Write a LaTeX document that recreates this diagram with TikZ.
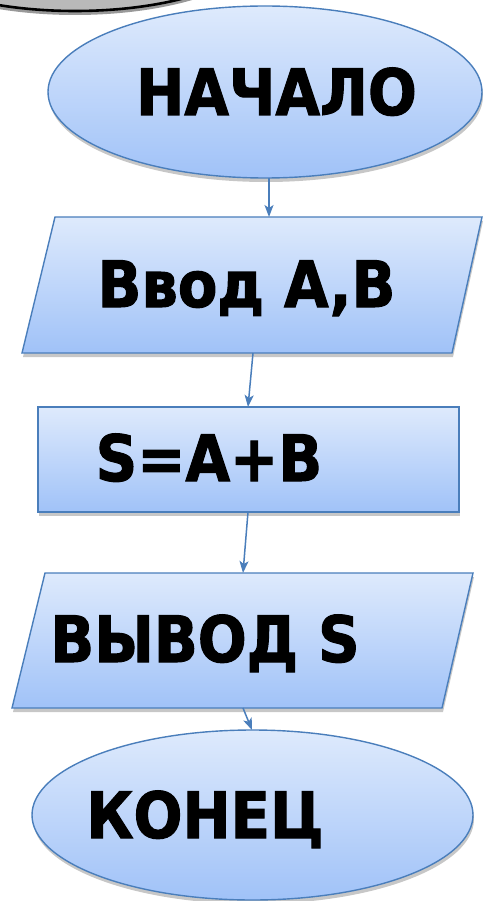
\documentclass[tikz,border=0pt]{standalone}
\usepackage{fontspec}
\setmainfont{DejaVu Sans}[FakeStretch=0.9]
\newfontfamily\heavy{DejaVu Sans Bold}[FakeStretch=0.9,FakeBold=1.6]
\usetikzlibrary{arrows.meta,shadows,shapes.geometric}
\definecolor{edge}{RGB}{74,126,187}
\definecolor{topc}{RGB}{222,234,252}
\definecolor{botc}{RGB}{160,194,248}
\definecolor{darkfill}{RGB}{185,185,185}
\tikzset{
 blk/.style={draw=edge, line width=1.4pt, top color=topc, bottom color=botc,
   drop shadow={shadow xshift=1pt, shadow yshift=-4pt, opacity=0.22, fill=black}},
 lbl/.style={font=\fontsize{64}{64}\selectfont\heavy, text=black, inner sep=0pt, anchor=base},
 conn/.style={draw=edge, line width=1.5pt, -{Stealth[length=12pt,width=9pt,inset=3pt]}}
}
\begin{document}
\begin{tikzpicture}[x=1pt,y=-1pt]
\useasboundingbox (0,0) rectangle (483,901);
% partial dark shape at the top left
\draw[line width=2.6pt, fill=darkfill,
  drop shadow={shadow xshift=0pt, shadow yshift=-4pt, opacity=0.4, fill=black}]
  (75,-62) ellipse [x radius=193, y radius=73];
% shapes
\node[blk, ellipse, minimum width=434pt, minimum height=172pt, inner sep=0pt] (start) at (265,92) {};
\draw[blk] (55,217) -- (482,217) -- (452,353) -- (22,353) -- cycle;
\node[blk, rectangle, minimum width=421pt, minimum height=105pt, inner sep=0pt] (calc) at (248.5,459.5) {};
\draw[blk] (45,573) -- (473,573) -- (442,708) -- (12,708) -- cycle;
\node[blk, ellipse, minimum width=441pt, minimum height=170pt, inner sep=0pt] (stop) at (252.5,815) {};
% labels
\node[lbl] (t1) at (276.5,115) {НАЧАЛО};
\node[lbl] (t2) at (246.5,307) {Ввод A,B};
\node[lbl] (t3) at (209,481) {S=A+B};
\node[lbl] (t4) at (205,662) {ВЫВОД S};
\node[lbl] (t5) at (205,838) {КОНЕЦ};
% connector end points
\coordinate (c1a) at (269,178);
\coordinate (c1b) at (269,217);
\coordinate (c2a) at (253,353);
\coordinate (c2b) at (248,407);
\coordinate (c3a) at (248,512);
\coordinate (c3b) at (243,573);
\coordinate (c4a) at (243,708);
\coordinate (c4b) at (252,730);
\draw[conn] (c1a) -- (c1b);
\draw[conn] (c2a) -- (c2b);
\draw[conn] (c3a) -- (c3b);
\draw[conn] (c4a) -- (c4b);
\end{tikzpicture}
\end{document}
